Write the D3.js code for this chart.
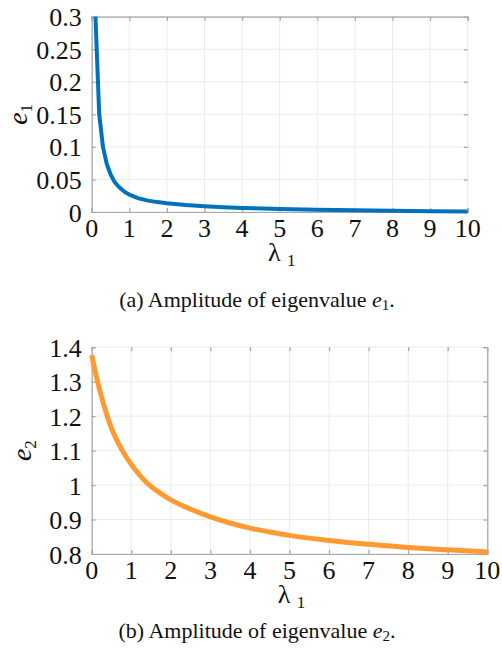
<!DOCTYPE html>
<html>
<head>
<meta charset="utf-8">
<script src="https://cdn.jsdelivr.net/npm/d3@7"></script>
<style>
  html, body { margin: 0; padding: 0; background: #fff; }
  svg { display: block; }
</style>
</head>
<body>
<svg id="fig" width="502" height="656"></svg>
<script>
// Amplitude of eigenvalue e1 against lambda_1
const lambdaA = [0.1, 0.2, 0.3, 0.4, 0.5, 0.6, 0.7, 0.8, 0.9, 1.0, 1.25, 1.5, 1.75, 2, 2.5, 3, 3.5, 4, 5, 6, 7, 8, 9, 10];
const e1Values = [0.3, 0.15, 0.1, 0.074, 0.058, 0.047, 0.04, 0.0345, 0.030, 0.0268, 0.021, 0.0175, 0.0152, 0.0135, 0.0108, 0.0088, 0.0073, 0.0062, 0.0045, 0.0035, 0.0026, 0.0019, 0.0013, 0.0008];

// Amplitude of eigenvalue e2 against lambda_1
const lambdaB = [0, 0.15, 0.25, 0.38, 0.5, 0.75, 1, 1.25, 1.5, 1.75, 2, 2.5, 3, 3.5, 4, 4.5, 5, 6, 7, 8, 9, 10];
const e2Values = [1.377, 1.3, 1.255, 1.205, 1.165, 1.105, 1.06, 1.024, 0.996, 0.975, 0.957, 0.93, 0.908, 0.89, 0.875, 0.864, 0.854, 0.839, 0.828, 0.819, 0.812, 0.806];

// tick labels
const xTicks = [0, 1, 2, 3, 4, 5, 6, 7, 8, 9, 10];
const yTicksA = [0, 0.05, 0.1, 0.15, 0.2, 0.25, 0.3];
const yTicksALabels = ["0", "0.05", "0.1", "0.15", "0.2", "0.25", "0.3"];
const yTicksB = [0.8, 0.9, 1.0, 1.1, 1.2, 1.3, 1.4];
const yTicksBLabels = ["0.8", "0.9", "1", "1.1", "1.2", "1.3", "1.4"];

const svg = d3.select("#fig");
const FONT = "Liberation Serif";
const GRID = "#ebebeb", AXIS = "#a6a6a6", TXT = "#111";

function panel(opt) {
  const x = d3.scaleLinear().domain([0, 10]).range([opt.left, opt.right]);
  const y = d3.scaleLinear().domain(opt.yDomain).range([opt.bottom, opt.top]);
  const g = svg.append("g").attr("font-family", FONT);

  // grid
  g.append("g").selectAll("line").data(xTicks).join("line")
    .attr("x1", d => x(d)).attr("x2", d => x(d))
    .attr("y1", opt.top).attr("y2", opt.bottom)
    .attr("stroke", GRID).attr("stroke-width", 1);
  g.append("g").selectAll("line").data(opt.yTicks).join("line")
    .attr("x1", opt.left).attr("x2", opt.right)
    .attr("y1", d => y(d)).attr("y2", d => y(d))
    .attr("stroke", GRID).attr("stroke-width", 1);

  // axes built with d3 axis generators, ticks pointing inward
  const xAxis = g.append("g").attr("transform", `translate(0,${opt.bottom})`)
    .call(d3.axisBottom(x).tickValues(xTicks).tickSize(-4).tickFormat(""));
  const yAxis = g.append("g").attr("transform", `translate(${opt.left},0)`)
    .call(d3.axisLeft(y).tickValues(opt.yTicks).tickSize(-4).tickFormat(""));
  const topAx = g.append("g").attr("transform", `translate(0,${opt.top})`)
    .call(d3.axisTop(x).tickValues(xTicks).tickSize(-4).tickFormat(""));
  const rightAx = g.append("g").attr("transform", `translate(${opt.right},0)`)
    .call(d3.axisRight(y).tickValues(opt.yTicks).tickSize(-4).tickFormat(""));
  [xAxis, yAxis, topAx, rightAx].forEach(a => {
    a.selectAll("path.domain").attr("stroke", AXIS).attr("stroke-width", 1.2);
    a.selectAll(".tick line").attr("stroke", AXIS).attr("stroke-width", 1.2);
  });
  if (!opt.topLine) topAx.select("path.domain").remove();
  if (!opt.rightLine) rightAx.select("path.domain").remove();

  // tick labels
  g.append("g").selectAll("text").data(xTicks).join("text")
    .attr("x", d => x(d)).attr("y", opt.bottom + 25)
    .attr("text-anchor", "middle").attr("font-size", 26).attr("fill", TXT)
    .text(d => d);
  g.append("g").selectAll("text").data(opt.yTicks).join("text")
    .attr("x", opt.left - 10).attr("y", d => y(d) + 9.5)
    .attr("text-anchor", "end").attr("font-size", 26).attr("fill", TXT)
    .text((d, i) => opt.yLabels[i]);

  // x label: lambda with subscript 1
  const xl = g.append("text")
    .attr("x", (opt.left + opt.right) / 2 + 2).attr("y", opt.bottom + 49)
    .attr("text-anchor", "middle").attr("font-size", 26).attr("fill", TXT);
  xl.append("tspan").text("λ ");
  xl.append("tspan").attr("font-size", 17).attr("dy", 5).text("1");

  // y label: italic e with subscript
  const yl = g.append("text")
    .attr("transform", `translate(${opt.yLabelX},${(opt.top + opt.bottom) / 2}) rotate(-90)`)
    .attr("text-anchor", "middle").attr("font-size", 28).attr("fill", TXT);
  yl.append("tspan").attr("font-style", "italic").text("e");
  yl.append("tspan").attr("font-size", 17).attr("dy", 5).text(opt.sub);

  // curve
  const data = opt.xs.map((v, i) => [v, opt.ys[i]]);
  g.append("path").datum(data)
    .attr("fill", "none").attr("stroke", opt.color)
    .attr("stroke-width", opt.width).attr("stroke-linejoin", "round")
    .attr("d", d3.line().x(d => x(d[0])).y(d => y(d[1])).curve(opt.curve));

  // caption
  const cap = g.append("text")
    .attr("x", 257).attr("y", opt.capY)
    .attr("text-anchor", "middle").attr("font-size", 22).attr("fill", TXT);
  cap.append("tspan").text(opt.capLead + " Amplitude of eigenvalue ");
  cap.append("tspan").attr("font-style", "italic").text("e");
  cap.append("tspan").attr("font-size", 15).attr("dy", 3).text(opt.sub);
  cap.append("tspan").attr("dy", -3).text(".");
}

panel({
  left: 91.7, right: 467.7, top: 16.7, bottom: 212,
  yDomain: [0, 0.3], yTicks: yTicksA, yLabels: yTicksALabels,
  xs: lambdaA, ys: e1Values, color: "#0072BD", width: 4,
  curve: d3.curveLinear, topLine: true, rightLine: false,
  yLabelX: 27, sub: "1", capLead: "(a)", capY: 307
});

panel({
  left: 91.7, right: 487.3, top: 347.2, bottom: 554,
  yDomain: [0.8, 1.4], yTicks: yTicksB, yLabels: yTicksBLabels,
  xs: lambdaB, ys: e2Values, color: "#FF9A33", width: 5,
  curve: d3.curveMonotoneX, topLine: false, rightLine: true,
  yLabelX: 31, sub: "2", capLead: "(b)", capY: 638
});
</script>
</body>
</html>
